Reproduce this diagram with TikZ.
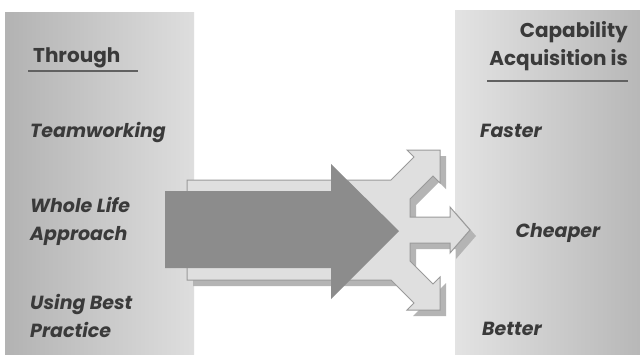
\documentclass[tikz,border=0pt]{standalone}
\usepackage{fontspec}
\setmainfont{Poppins}
\definecolor{txt}{HTML}{3A3A3A}
\definecolor{darkarrow}{HTML}{8C8C8C}
\definecolor{lightarrow}{HTML}{DFDFDF}
\definecolor{arrowline}{HTML}{9A9A9A}
\definecolor{shadowc}{HTML}{B4B4B4}
\begin{document}
\begin{tikzpicture}[x=1pt,y=-1pt,
  lbl/.style={font=\fontsize{19}{22}\selectfont\bfseries\itshape, text=txt, inner sep=0pt},
  hdr/.style={font=\fontsize{20}{22}\selectfont\bfseries, text=txt, inner sep=0pt},
  rule/.style={draw=txt!80, line width=2pt}]
\useasboundingbox (0,0) rectangle (640,354);
\fill[white] (0,0) rectangle (640,354);
% panels
\shade[left color=black!30, right color=black!13] (5,12) rectangle (194,354);
\shade[left color=black!11, right color=black!28] (455,10) rectangle (640,354);
% light three-way arrow: shadow
\fill[shadowc, shift={(6,6)}]
 (187,180) -- (391,180) -- (414,157) -- (407,150) -- (440,150) -- (440,183) -- (433,176) -- (410,199)
 -- (410,217) -- (450,217) -- (450,207) -- (470,230) -- (450,253) -- (450,243) -- (410,243)
 -- (410,261) -- (433,284) -- (440,277) -- (440,310) -- (407,310) -- (414,303) -- (391,280) -- (187,280) -- cycle;
% light three-way arrow
\filldraw[fill=lightarrow, draw=arrowline, line width=1pt, line join=miter]
 (187,180) -- (391,180) -- (414,157) -- (407,150) -- (440,150) -- (440,183) -- (433,176) -- (410,199)
 -- (410,217) -- (450,217) -- (450,207) -- (470,230) -- (450,253) -- (450,243) -- (410,243)
 -- (410,261) -- (433,284) -- (440,277) -- (440,310) -- (407,310) -- (414,303) -- (391,280) -- (187,280) -- cycle;
% dark arrow
\fill[darkarrow]
 (165,191) -- (331,191) -- (331,164) -- (399,231) -- (331,299) -- (331,268) -- (165,268) -- cycle;
% left texts
\node[hdr, anchor=base west] (through) at (33,62) {Through};
\draw[rule] (28,71) -- (138,71);
\node[lbl, anchor=base west] (team) at (30,137) {Teamworking};
\node[lbl, anchor=base west] (whole) at (30,212) {Whole Life};
\node[lbl, anchor=base west] (appr) at (30,240) {Approach};
\node[lbl, anchor=base west] (using) at (30,309) {Using Best};
\node[lbl, anchor=base west] (pract) at (30,337) {Practice};
% right texts
\node[hdr, anchor=base east] (capab) at (628,37) {Capability};
\node[hdr, anchor=base east] (acq) at (628,65) {Acquisition is};
\draw[rule] (487,81) -- (628,81);
\node[lbl, anchor=base west] (faster) at (480,137) {Faster};
\node[lbl, anchor=base] (cheaper) at (558,237) {Cheaper};
\node[lbl, anchor=base west] (better) at (482,335) {Better};
\end{tikzpicture}
\end{document}
